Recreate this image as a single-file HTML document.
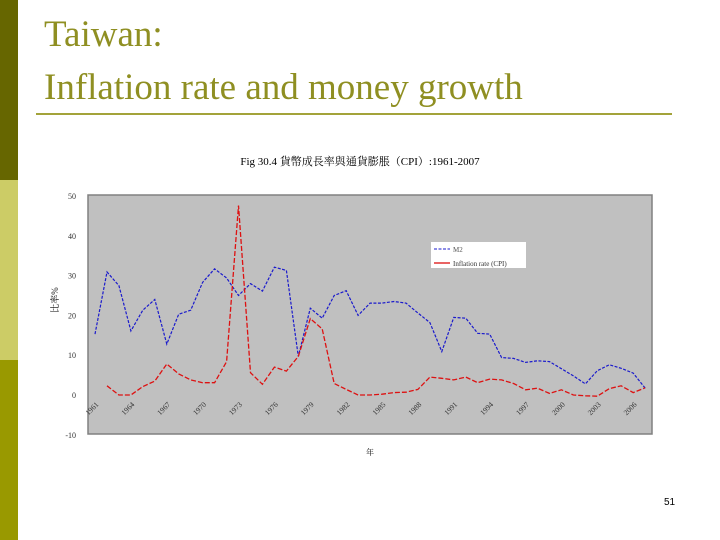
<!DOCTYPE html>
<html><head><meta charset="utf-8"><style>
body{margin:0;width:720px;height:540px;background:#fff;position:relative;overflow:hidden;font-family:"Liberation Serif","Noto Serif CJK SC",serif}
</style></head><body>
<div style="position:absolute;left:0;top:0;width:18px;height:180px;background:#666600"></div>
<div style="position:absolute;left:0;top:180px;width:18px;height:180px;background:#cccc66"></div>
<div style="position:absolute;left:0;top:360px;width:18px;height:180px;background:#999900"></div>
<div style="position:absolute;left:44px;top:8px;font-size:37px;line-height:53px;color:#8f8f22;font-family:'Liberation Serif',serif">Taiwan:<br>Inflation rate and money growth</div>
<div style="position:absolute;left:36px;top:113px;width:636px;height:2px;background:#a3a33a"></div>
<div style="position:absolute;left:664px;top:497px;font-size:10px;font-family:'Liberation Sans',sans-serif">51</div>
<svg id="chart" width="720" height="540" style="position:absolute;left:0;top:0" font-family="'Liberation Serif','Noto Serif CJK TC',serif"></svg>
<script>
const years=[];for(let y=1961;y<=2007;y++)years.push(y);
const m2=[15.3,30.9,27.5,16.1,21.3,24,12.8,20.3,21.3,28.3,31.7,29.4,25,28,26.1,32.1,31.3,9.7,21.8,19.3,25,26.2,20,23.1,23.1,23.5,23.1,20.6,18.2,10.9,19.5,19.3,15.5,15.3,9.4,9.2,8.2,8.6,8.4,6.6,4.8,2.8,6.1,7.6,6.7,5.5,1.7];
const cpi=[null,2.3,0,0,2.1,3.5,7.8,5.3,3.8,3.1,3.1,8.4,47.6,5.6,2.7,7,6,9.7,19.2,16.6,2.9,1.4,0,0,0.2,0.6,0.7,1.4,4.5,4.2,3.8,4.5,3.1,4,3.8,2.9,1.3,1.7,0.4,1.3,0,-0.2,-0.3,1.6,2.3,0.6,1.8];
const yTicks=[50,40,30,20,10,0,-10];
const xLabelYears=[1961,1964,1967,1970,1973,1976,1979,1982,1985,1988,1991,1994,1997,2000,2003,2006,2009,2012,2015].filter(y=>y<=2007);
const NS='http://www.w3.org/2000/svg';
const svg=document.getElementById('chart');
const X=y=>95+(y-1961)*11.96;
const Y=v=>395-v*3.98;
function mk(t,a){const e=document.createElementNS(NS,t);for(const k in a)e.setAttribute(k,a[k]);svg.appendChild(e);return e;}
let e=mk('text',{x:360,y:165,'font-size':11,'text-anchor':'middle'});e.textContent='Fig 30.4 貨幣成長率與通貨膨脹（CPI）:1961-2007';


e=mk('rect',{x:88,y:195,width:564,height:239,fill:'#c0c0c0',stroke:'#808080','stroke-width':1.5});


yTicks.forEach(v=>{const t=mk('text',{x:76,y:Y(v)+3,'font-size':8,'text-anchor':'end',fill:'#333'});t.textContent=v;

});
xLabelYears.forEach(y=>{const t=mk('text',{x:X(y)+4,y:405,'font-size':7.5,'text-anchor':'end',fill:'#333',transform:`rotate(-45 ${X(y)+4} 405)`});t.textContent=y;

});
e=mk('text',{x:58,y:300,'font-size':9,'text-anchor':'middle',transform:'rotate(-90 58 300)'});e.textContent='比率%';


e=mk('text',{x:370,y:455,'font-size':8,'text-anchor':'middle'});e.textContent='年';


function line(data,color,dash,w,name){let d='',pen=false;data.forEach((v,i)=>{if(v==null){pen=false;return;}d+=(pen?'L':'M')+X(years[i]).toFixed(1)+' '+Y(v).toFixed(1)+' ';pen=true;});
const p=mk('path',{d:d,fill:'none',stroke:color,'stroke-width':w,'stroke-dasharray':dash});

}
line(m2,'#1a1acc','3 1.5',1.2,'m2-growth-line');
line(cpi,'#dd1111','5 2',1.3,'inflation-line');
e=mk('rect',{x:431,y:242,width:95,height:26,fill:'#fff'});


e=mk('line',{x1:434,y1:249,x2:450,y2:249,stroke:'#1a1acc','stroke-width':1,'stroke-dasharray':'3 1.5'});


e=mk('text',{x:453,y:252,'font-size':7,fill:'#555'});e.textContent='M2';


e=mk('line',{x1:434,y1:263,x2:450,y2:263,stroke:'#dd1111','stroke-width':1.3});


e=mk('text',{x:453,y:266,'font-size':7,fill:'#333'});e.textContent='Inflation rate (CPI)';


</script>
</body></html>
